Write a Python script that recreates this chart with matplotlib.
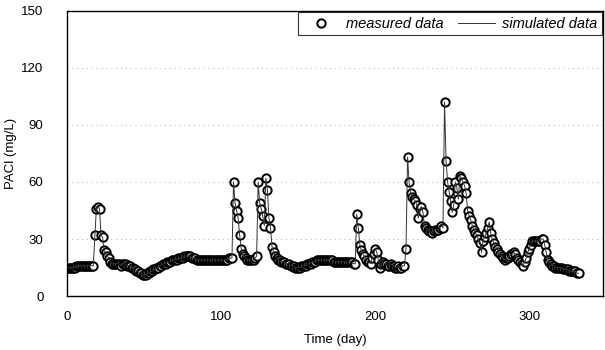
import numpy as np
import matplotlib.pyplot as plt

plt.rcParams['font.family'] = ['Liberation Sans', 'DejaVu Sans']

# measured PACl dose, one value per day (day 0 .. 332)
pacl = [
    15, 15, 15, 15, 15, 15, 16, 16, 16, 16,
    16, 16, 16, 16, 16, 16, 16, 16, 32, 46,
    47, 46, 32, 31, 24, 23, 21, 20, 18, 17,
    17, 17, 17, 17, 17, 16, 17, 17, 17, 16,
    16, 16, 15, 15, 14, 13, 13, 12, 12, 11,
    11, 11, 12, 12, 13, 13, 14, 14, 15, 15,
    16, 16, 17, 17, 17, 18, 18, 18, 19, 19,
    19, 19, 20, 20, 20, 20, 21, 21, 21, 21,
    21, 20, 20, 20, 19, 19, 19, 19, 19, 19,
    19, 19, 19, 19, 19, 19, 19, 19, 19, 19,
    19, 19, 19, 19, 19, 20, 20, 20, 60, 49,
    45, 41, 32, 25, 22, 21, 20, 19, 19, 19,
    19, 19, 20, 21, 60, 49, 46, 42, 37, 62,
    56, 41, 36, 26, 23, 21, 20, 19, 19, 18,
    18, 18, 17, 17, 17, 16, 16, 16, 15, 15,
    15, 15, 16, 16, 16, 16, 17, 17, 17, 18,
    18, 18, 19, 19, 19, 19, 19, 19, 19, 19,
    19, 19, 19, 18, 18, 18, 18, 18, 18, 18,
    18, 18, 18, 18, 18, 18, 17, 17, 43, 36,
    27, 24, 22, 21, 19, 18, 18, 17, 20, 22,
    25, 23, 19, 15, 17, 18, 17, 17, 16, 16,
    17, 16, 16, 15, 15, 16, 15, 15, 16, 16,
    25, 73, 60, 54, 52, 51, 50, 48, 41, 46,
    47, 44, 37, 36, 35, 34, 34, 33, 34, 35,
    35, 35, 36, 37, 36, 102, 71, 60, 55, 50,
    44, 48, 60, 57, 51, 63, 62, 60, 58, 54,
    45, 42, 40, 37, 35, 33, 32, 30, 28, 23,
    29, 31, 33, 36, 39, 33, 30, 28, 26, 25,
    23, 22, 21, 20, 19, 20, 20, 21, 22, 22,
    23, 22, 20, 19, 18, 17, 16, 18, 20, 23,
    25, 27, 29, 29, 29, 29, 29, 29, 30, 30,
    27, 23, 19, 18, 17, 16, 16, 15, 15, 15,
    15, 15, 14, 14, 14, 14, 13, 13, 13, 13,
    13, 12, 12,
]
days = np.arange(len(pacl))

xticks = [0, 100, 200, 300]
yticks = [0, 30, 60, 90, 120, 150]

fig = plt.figure(figsize=(6.05, 3.5), dpi=100)
ax = fig.add_axes([0.111, 0.154, 0.886, 0.815])

# horizontal dotted grid, faint
for yv in yticks[1:-1]:
    ax.axhline(yv, color='#b0b0b0', linestyle=(0, (1, 4)), linewidth=0.7, zorder=0)

ax.plot(days, pacl, 'o', markersize=6, markerfacecolor='white',
        markeredgecolor='black', markeredgewidth=1.4, label='measured data', zorder=2)
ax.plot(days, pacl, '-', color='#333333', linewidth=0.7, label='simulated data', zorder=3)

ax.set_xlim(0, 348)
ax.set_ylim(0, 150)
ax.set_xticks(xticks)
ax.set_yticks(yticks)
ax.tick_params(axis='y', length=0, labelsize=9.5, pad=17)
ax.tick_params(axis='x', length=0, labelsize=9.5, pad=11)
for s in ax.spines.values():
    s.set_color('black')
    s.set_linewidth(1.0)

ax.set_xlabel('Time (day)', fontsize=9.5, labelpad=8)
ax.set_ylabel('PACl (mg/L)', fontsize=9.5)
ax.yaxis.set_label_coords(-0.093, 0.5)

leg = ax.legend(loc='upper right', ncol=2, frameon=True, fancybox=False,
                borderpad=0.3, handlelength=2.5, handletextpad=0.5, columnspacing=1.0,
                borderaxespad=0.1, prop={'style': 'italic', 'size': 10.5})
leg.get_frame().set_edgecolor('black')
leg.get_frame().set_linewidth(0.8)

fig.savefig('out.png', dpi=100)
